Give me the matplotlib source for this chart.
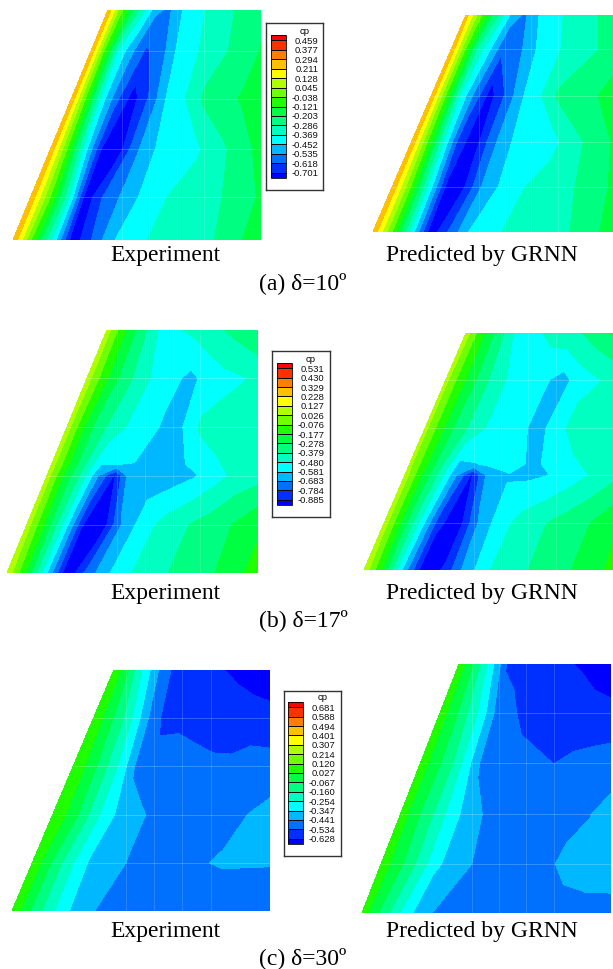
import numpy as np
import matplotlib
matplotlib.use("Agg")
import matplotlib.pyplot as plt
from matplotlib.colors import ListedColormap, BoundaryNorm

W, H = 613, 969

# contour levels, as printed on the three legends
levels_a = [-0.701, -0.618, -0.535, -0.452, -0.369, -0.286, -0.203, -0.121,
            -0.038, 0.045, 0.128, 0.211, 0.294, 0.377, 0.459]
levels_b = [-0.885, -0.784, -0.683, -0.581, -0.480, -0.379, -0.278, -0.177,
            -0.076, 0.026, 0.127, 0.228, 0.329, 0.430, 0.531]
levels_c = [-0.628, -0.534, -0.441, -0.347, -0.254, -0.160, -0.067, 0.027,
            0.120, 0.214, 0.307, 0.401, 0.494, 0.588, 0.681]

band_colors = ["#0030ff", "#0070ff", "#00b8ff", "#00ffff", "#00ffc0", "#00ff80",
               "#00ff40", "#20ff00", "#70ff00", "#b0ff00", "#ffff00", "#ffc000",
               "#ff8000", "#ff3000"]
under_color = "#0000ff"
over_color = "#ff0000"

# chord stations (fraction of local chord)
xi = [0, 0.08, 0.16, 0.24, 0.32, 0.40, 0.50, 0.60, 0.70, 0.80, 0.90, 1.0]

# span stations (fraction from top of plot)
eta_a_exp = [0, 0.177, 0.387, 0.604, 0.814, 1]
eta_a_pred = [0, 0.158, 0.372, 0.585, 0.792, 1]
eta_b_exp = [0, 0.199, 0.400, 0.551, 0.600, 0.801, 1]
eta_b_pred = [0, 0.197, 0.401, 0.552, 0.600, 0.803, 1]
eta_c_exp = [0, 0.200, 0.400, 0.600, 0.800, 1]
eta_c_pred = [0, 0.197, 0.398, 0.603, 0.803, 1]

# white mesh lines
mesh_x = [0.44, 0.55, 0.66, 0.77]

# cp tables, one row per span station
cp_a_exp = [
    [0.28, 0.00, -0.20, -0.36, -0.52, -0.55, -0.44, -0.39, -0.33, -0.30, -0.25, -0.22],
    [0.28, -0.06, -0.38, -0.52, -0.63, -0.59, -0.45, -0.39, -0.33, -0.29, -0.245, -0.20],
    [0.28, -0.07, -0.41, -0.60, -0.74, -0.625, -0.45, -0.37, -0.27, -0.23, -0.195, -0.18],
    [0.28, -0.05, -0.40, -0.70, -0.76, -0.56, -0.45, -0.42, -0.38, -0.31, -0.25, -0.17],
    [0.28, -0.02, -0.33, -0.76, -0.60, -0.52, -0.42, -0.365, -0.335, -0.30, -0.255, -0.19],
    [0.29, -0.07, -0.39, -0.76, -0.61, -0.46, -0.39, -0.34, -0.31, -0.295, -0.22, -0.15],
]
cp_a_pred = [
    [0.25, 0.03, -0.17, -0.33, -0.50, -0.55, -0.45, -0.40, -0.35, -0.315, -0.286, -0.25],
    [0.28, -0.02, -0.30, -0.45, -0.60, -0.58, -0.47, -0.40, -0.36, -0.32, -0.29, -0.25],
    [0.28, -0.05, -0.38, -0.57, -0.74, -0.62, -0.46, -0.375, -0.27, -0.24, -0.21, -0.17],
    [0.28, -0.05, -0.38, -0.68, -0.74, -0.56, -0.45, -0.42, -0.40, -0.31, -0.265, -0.195],
    [0.28, -0.03, -0.37, -0.705, -0.72, -0.54, -0.43, -0.37, -0.33, -0.30, -0.25, -0.19],
    [0.28, -0.04, -0.40, -0.76, -0.60, -0.45, -0.385, -0.34, -0.31, -0.30, -0.23, -0.17],
]
cp_b_exp = [
    [0.08, -0.10, -0.24, -0.34, -0.47, -0.52, -0.48, -0.45, -0.41, -0.37, -0.33, -0.29],
    [0.08, -0.10, -0.25, -0.35, -0.45, -0.50, -0.55, -0.61, -0.55, -0.51, -0.49, -0.46],
    [0.08, -0.16, -0.33, -0.42, -0.49, -0.50, -0.60, -0.59, -0.46, -0.44, -0.42, -0.40],
    [0.08, -0.17, -0.37, -0.575, -0.575, -0.585, -0.60, -0.60, -0.56, -0.49, -0.44, -0.41],
    [0.08, -0.20, -0.40, -0.68, -0.90, -0.60, -0.63, -0.63, -0.59, -0.52, -0.45, -0.42],
    [0.08, -0.20, -0.50, -0.88, -0.98, -0.70, -0.53, -0.44, -0.38, -0.33, -0.27, -0.20],
    [0.10, -0.20, -0.585, -0.98, -0.745, -0.595, -0.477, -0.405, -0.345, -0.30, -0.22, -0.13],
]
cp_b_pred = [
    [0.08, -0.10, -0.24, -0.35, -0.48, -0.52, -0.49, -0.44, -0.41, -0.375, -0.32, -0.27],
    [0.06, -0.12, -0.25, -0.36, -0.46, -0.50, -0.52, -0.57, -0.62, -0.53, -0.49, -0.46],
    [0.06, -0.14, -0.30, -0.40, -0.48, -0.52, -0.55, -0.62, -0.53, -0.43, -0.42, -0.40],
    [0.06, -0.16, -0.37, -0.60, -0.585, -0.56, -0.54, -0.60, -0.56, -0.50, -0.45, -0.41],
    [0.08, -0.18, -0.40, -0.66, -0.90, -0.65, -0.59, -0.60, -0.58, -0.53, -0.47, -0.41],
    [0.08, -0.22, -0.52, -0.86, -0.96, -0.70, -0.53, -0.44, -0.385, -0.33, -0.278, -0.20],
    [0.10, -0.22, -0.62, -0.97, -0.87, -0.66, -0.485, -0.42, -0.35, -0.30, -0.23, -0.15],
]
cp_c_exp = [
    [0.10, -0.04, -0.22, -0.36, -0.50, -0.56, -0.575, -0.60, -0.625, -0.65, -0.68, -0.70],
    [0.10, -0.02, -0.14, -0.30, -0.46, -0.56, -0.55, -0.56, -0.57, -0.575, -0.58, -0.59],
    [0.10, 0.00, -0.14, -0.28, -0.46, -0.49, -0.50, -0.51, -0.52, -0.52, -0.50, -0.50],
    [0.10, 0.00, -0.15, -0.30, -0.385, -0.43, -0.47, -0.49, -0.49, -0.47, -0.44, -0.41],
    [0.10, -0.07, -0.23, -0.36, -0.40, -0.445, -0.47, -0.48, -0.45, -0.43, -0.432, -0.434],
    [0.10, -0.09, -0.25, -0.375, -0.441, -0.47, -0.48, -0.48, -0.50, -0.52, -0.52, -0.52],
]
cp_c_pred = [
    [0.08, -0.04, -0.21, -0.37, -0.55, -0.56, -0.58, -0.60, -0.62, -0.635, -0.68, -0.725],
    [0.08, -0.03, -0.16, -0.29, -0.45, -0.51, -0.56, -0.57, -0.575, -0.58, -0.583, -0.585],
    [0.08, -0.03, -0.14, -0.30, -0.46, -0.49, -0.50, -0.52, -0.535, -0.52, -0.51, -0.50],
    [0.08, -0.05, -0.17, -0.30, -0.39, -0.45, -0.48, -0.49, -0.49, -0.47, -0.445, -0.40],
    [0.08, -0.04, -0.18, -0.33, -0.39, -0.445, -0.47, -0.48, -0.47, -0.42, -0.40, -0.39],
    [0.08, -0.10, -0.27, -0.41, -0.47, -0.48, -0.49, -0.49, -0.49, -0.47, -0.47, -0.476],
]


def axes_px(fig, x0, x1, y0, y1):
    return fig.add_axes([x0 / W, 1 - y1 / H, (x1 - x0) / W, (y1 - y0) / H])


def wing(fig, box, le_top, eta, cp, levels, mesh_rows):
    ax = axes_px(fig, *box)
    cmap = ListedColormap(band_colors)
    cmap.set_under(under_color)
    cmap.set_over(over_color)
    norm = BoundaryNorm(levels, cmap.N)
    xx, yy = np.meshgrid(xi, eta)
    le = le_top * (1 - yy)
    X = le + xx * (1 - le)
    cf = ax.contourf(X, yy, np.array(cp), levels=levels, cmap=cmap, norm=norm, extend="both")
    # faint mesh lines
    for j in mesh_rows:
        ax.plot(X[j], yy[j], color="white", lw=0.5, alpha=0.3)
    for x in mesh_x:
        ax.axvline(x, color="white", lw=0.5, alpha=0.22)
    ax.set_xlim(0, 1)
    ax.set_ylim(1, 0)
    ax.axis("off")
    return cf


def legend(fig, cf, box, bar, levels):
    frame = axes_px(fig, *box)
    frame.set_xticks([])
    frame.set_yticks([])
    for s in frame.spines.values():
        s.set_linewidth(1.0)
        s.set_color("#333333")
    cax = axes_px(fig, *bar)
    cb = fig.colorbar(cf, cax=cax, ticks=levels, spacing="uniform", drawedges=True,
                      extendrect=True, extendfrac=0.04)
    cb.outline.set_linewidth(0.6)
    cb.dividers.set_linewidth(0.7)
    cb.dividers.set_color("black")
    cax.set_yticklabels(["%.3f" % v for v in levels])
    cax.tick_params(axis="y", length=0, pad=23.5, labelsize=6.8, colors="#111111")
    for t in cax.get_yticklabels():
        t.set_ha("right")
        t.set_family(["Liberation Sans", "DejaVu Sans"])
    fig.text((box[0] + 39) / W, 1 - (bar[2] - 4) / H, "cp", fontsize=6.8, ha="center", va="center",
             family=["Liberation Sans", "DejaVu Sans"])


def main():
    plt.rcParams["font.family"] = ["Liberation Serif", "DejaVu Serif"]
    fig = plt.figure(figsize=(W / 100, H / 100), dpi=100)

    rows4 = [1, 2, 3, 4]
    rows_b = [1, 2, 4, 5]
    wing(fig, (373, 613, 15, 232), 0.3875, eta_a_pred, cp_a_pred, levels_a, rows4)
    cf = wing(fig, (13, 261, 10, 240), 0.383, eta_a_exp, cp_a_exp, levels_a, rows4)
    legend(fig, cf, (266, 323, 23, 190), (271, 286, 35, 178), levels_a)

    wing(fig, (364, 613, 333, 570), 0.41, eta_b_pred, cp_b_pred, levels_b, rows_b)
    cf = wing(fig, (7, 258, 330, 573), 0.398, eta_b_exp, cp_b_exp, levels_b, rows_b)
    legend(fig, cf, (272, 330, 351, 517), (277, 292, 363, 505), levels_b)

    wing(fig, (362, 611, 664, 913), 0.39, eta_c_pred, cp_c_pred, levels_c, rows4)
    cf = wing(fig, (12, 270, 670, 911), 0.395, eta_c_exp, cp_c_exp, levels_c, rows4)
    legend(fig, cf, (284, 341, 691, 856), (288, 303, 702, 844), levels_c)

    captions = ["(a) δ=10º", "(b) δ=17º", "(c) δ=30º"]
    ys = [256, 593, 931]
    for cap, y in zip(captions, ys):
        fig.text(165 / W, 1 - y / H, "Experiment", fontsize=17, ha="center", va="center")
        fig.text(482 / W, 1 - y / H, "Predicted by GRNN", fontsize=17, ha="center", va="center")
        fig.text(303 / W, 1 - (y + 27) / H, cap, fontsize=17, ha="center", va="center")

    fig.savefig("out.png", dpi=100)


if __name__ == "__main__":
    main()
